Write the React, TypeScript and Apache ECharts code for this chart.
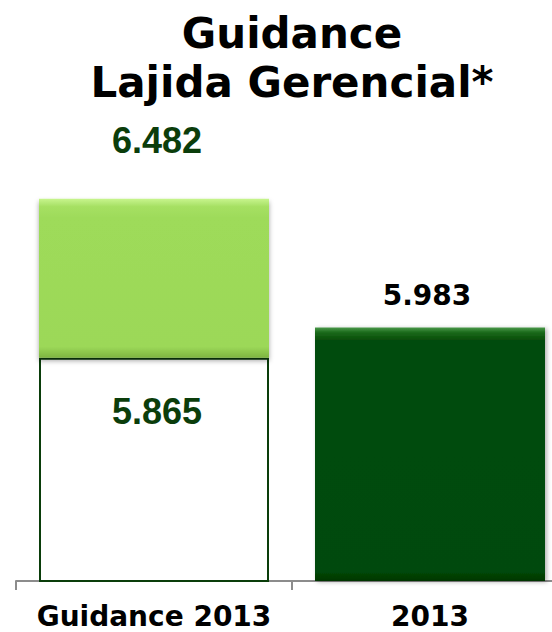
import React, { useEffect, useRef } from "react";
import * as echarts from "echarts";

const categories = ["Guidance 2013", "2013"];
const guidanceLow: (number | null)[] = [5.865, null];
const guidanceHigh: (number | null)[] = [6.482, null];
const actual: (number | null)[] = [null, 5.983];
const titleLines = ["Guidance", "Lajida Gerencial*"];

const DARK_LABEL = "#0b3d0b";

export default function App() {
  const ref = useRef<HTMLDivElement>(null);
  useEffect(() => {
    if (!ref.current) return;
    const chart = echarts.init(ref.current, null, { renderer: "svg" });
    const rangeData = guidanceHigh.map((h, i) =>
      h == null || guidanceLow[i] == null ? null : +(h - (guidanceLow[i] as number)).toFixed(3)
    );
    chart.setOption({
      animation: false,
      backgroundColor: "#ffffff",
      graphic: [
        {
          type: "text",
          x: 292,
          y: 9,
          style: {
            text: titleLines.join("\n"),
            textAlign: "center",
            textVerticalAlign: "top",
            fontFamily: "DejaVu Sans",
            fontWeight: "bold",
            fontSize: 42,
            lineHeight: 49,
            fill: "#000000",
          },
        },
      ],
      grid: {
        left: 16,
        width: 552,
        top: 194,
        height: 387,
        containLabel: false,
        outerBoundsMode: "none",
      },
      xAxis: {
        type: "category",
        data: categories,
        axisLine: { show: true, lineStyle: { color: "#8c8c8c", width: 2 } },
        axisTick: { show: true, length: 9, lineStyle: { color: "#8c8c8c", width: 2 } },
        axisLabel: {
          margin: 25,
          color: "#000000",
          fontFamily: "DejaVu Sans",
          fontWeight: "bold",
          fontSize: 28,
          lineHeight: 20,
          interval: 0,
        },
      },
      yAxis: {
        type: "value",
        min: 5.0,
        max: 6.5,
        show: false,
        splitLine: { show: false },
      },
      series: [
        {
          type: "bar",
          name: "base",
          stack: "s",
          barWidth: 230,
          data: guidanceLow,
          itemStyle: { color: "#ffffff", borderColor: "#0a3d0a", borderWidth: 2 },
          label: {
            show: true,
            position: "insideTop",
            distance: 36,
            offset: [3, 0],
            formatter: (p: any) => (p.value == null ? "" : Number(p.value).toFixed(3)),
            color: DARK_LABEL,
            fontFamily: "Liberation Sans",
            fontWeight: "bold",
            fontSize: 36,
            lineHeight: 36,
          },
          z: 2,
        },
        {
          type: "bar",
          name: "range",
          stack: "s",
          barWidth: 230,
          data: rangeData,
          itemStyle: {
            color: new echarts.graphic.LinearGradient(0, 0, 0, 1, [
              { offset: 0, color: "#c8f58e" },
              { offset: 0.05, color: "#a6e063" },
              { offset: 0.12, color: "#9edb5a" },
              { offset: 0.93, color: "#9cd858" },
              { offset: 1, color: "#7db540" },
            ]),
            shadowColor: "rgba(0,0,0,0.35)",
            shadowBlur: 5,
            shadowOffsetY: 3,
          },
          label: {
            show: true,
            position: "top",
            distance: 40,
            offset: [3, 0],
            formatter: (p: any) => {
              const v = guidanceHigh[p.dataIndex];
              return v == null ? "" : v.toFixed(3);
            },
            color: DARK_LABEL,
            fontFamily: "Liberation Sans",
            fontWeight: "bold",
            fontSize: 36,
            lineHeight: 36,
          },
          z: 3,
        },
        {
          type: "bar",
          name: "actual",
          stack: "s",
          barWidth: 230,
          data: actual,
          itemStyle: {
            color: new echarts.graphic.LinearGradient(0, 0, 0, 1, [
              { offset: 0, color: "#4b9a4b" },
              { offset: 0.02, color: "#1a6a1a" },
              { offset: 0.05, color: "#064c08" },
              { offset: 0.96, color: "#064a08" },
              { offset: 1, color: "#033503" },
            ]),
            shadowColor: "rgba(0,0,0,0.3)",
            shadowBlur: 4,
            shadowOffsetX: 2,
            shadowOffsetY: 1,
          },
          label: {
            show: true,
            position: "top",
            distance: 18,
            offset: [-3, 0],
            formatter: (p: any) => (p.value == null ? "" : Number(p.value).toFixed(3)),
            color: "#000000",
            fontFamily: "DejaVu Sans",
            fontWeight: "bold",
            fontSize: 28,
            lineHeight: 28,
          },
          z: 2,
        },
      ],
    });
    return () => chart.dispose();
  }, []);
  return (
    <div
      ref={ref}
      style={{ position: "absolute", left: 0, top: 0, width: 552, height: 632 }}
    />
  );
}
